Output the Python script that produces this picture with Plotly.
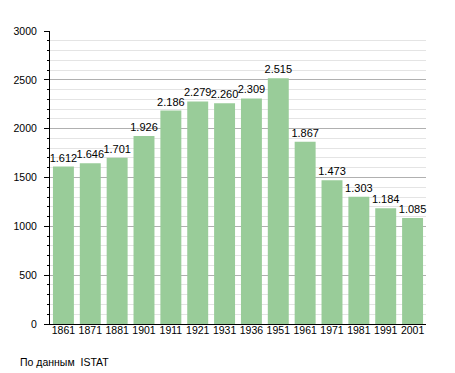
import plotly.graph_objects as go

years = ["1861", "1871", "1881", "1901", "1911", "1921", "1931", "1936", "1951", "1961", "1971", "1981", "1991", "2001"]
population = [1612, 1646, 1701, 1926, 2186, 2279, 2260, 2309, 2515, 1867, 1473, 1303, 1184, 1085]
labels = ["1.612", "1.646", "1.701", "1.926", "2.186", "2.279", "2.260", "2.309", "2.515", "1.867", "1.473", "1.303", "1.184", "1.085"]

fig = go.Figure(go.Bar(
    x=years, y=population, text=labels, textposition="outside",
    marker=dict(color="#99cc99", line=dict(width=0)),
    textfont=dict(family="Liberation Sans, Arial", size=11, color="black"),
    cliponaxis=False,
))

fig.update_layout(
    width=447, height=365,
    margin=dict(l=42, r=29, t=23, b=49, autoexpand=False),
    paper_bgcolor="white", plot_bgcolor="white",
    bargap=0.22,
    showlegend=False,
    uniformtext=dict(minsize=11, mode="show"),
    font=dict(family="Liberation Sans, Arial", size=10.5, color="black"),
    xaxis=dict(type="category", showline=True, linecolor="black", linewidth=1,
               ticks="", tickfont=dict(size=10.5), showgrid=False, automargin=False,
               ticklabelstandoff=-4),
    yaxis=dict(range=[0, 3000], tick0=0, dtick=500, showline=True, linecolor="black", linewidth=1,
               ticks="outside", ticklen=5, tickcolor="black", showgrid=True, gridcolor="#b0b0b0",
               gridwidth=1, zeroline=False, tickfont=dict(size=10.5), ticklabelstandoff=5,
               automargin=False,
               minor=dict(dtick=100, ticks="outside", ticklen=2, tickcolor="black",
                          showgrid=True, gridcolor="#e4e4e4", gridwidth=1)),
    annotations=[dict(text="По данным  ISTAT", xref="paper", yref="paper",
                      x=-32/376, y=-38/293,
                      xanchor="left", yanchor="middle", showarrow=False,
                      font=dict(size=10.5, color="black"))],
)

fig.write_html("out.html")
